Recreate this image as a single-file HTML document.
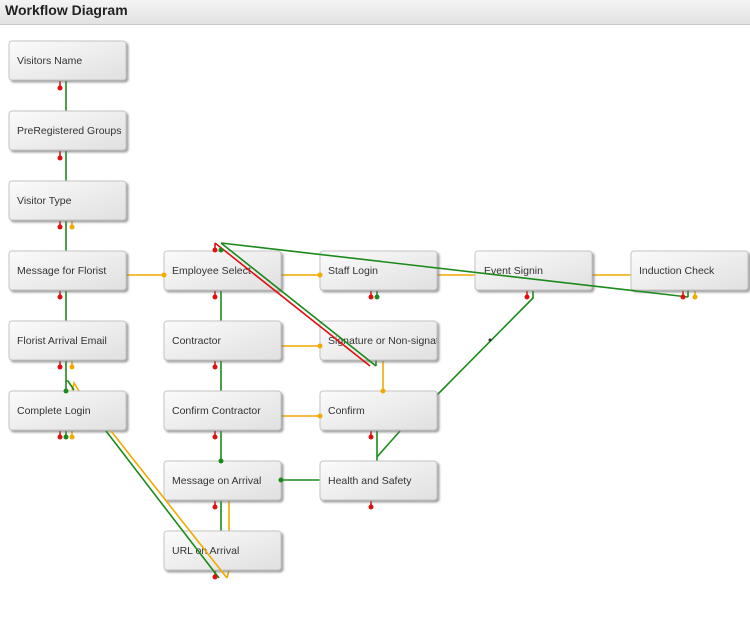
<!DOCTYPE html>
<html><head><meta charset="utf-8"><style>
body{margin:0;width:750px;height:628px;background:#fff;overflow:hidden;font-family:"Liberation Sans",sans-serif}
.hdr{position:absolute;left:0;top:0;width:750px;height:24px;background:linear-gradient(#f4f4f4,#e2e2e2);border-bottom:1px solid #c8c8c8}
.hdr span{position:absolute;left:5px;top:2px;font-size:14px;font-weight:bold;color:#222}
</style></head><body>
<div class="hdr"><span>Workflow Diagram</span></div>
<svg width="750" height="628" style="position:absolute;left:0;top:0">
<defs>
<linearGradient id="g" x1="0" y1="0" x2="1" y2="1"><stop offset="0" stop-color="#fbfbfb"/><stop offset="1" stop-color="#e0e0e0"/></linearGradient>
<filter id="s" x="-10%" y="-10%" width="130%" height="140%"><feDropShadow dx="2" dy="2" stdDeviation="1" flood-color="#777" flood-opacity="0.7"/></filter>
</defs>
<g fill="none" stroke-width="1.6">
<g stroke="#f2a900">
<line x1="126" y1="275" x2="164" y2="275"/><line x1="281" y1="275" x2="320" y2="275"/>
<line x1="437" y1="275" x2="475" y2="275"/><line x1="592" y1="275" x2="631" y2="275"/>
<line x1="281" y1="346" x2="320" y2="346"/><line x1="281" y1="416" x2="320" y2="416"/>
<line x1="383" y1="361" x2="383" y2="391"/>
<line x1="72" y1="221" x2="72" y2="227"/><line x1="72" y1="361" x2="72" y2="367"/>
<line x1="72" y1="431" x2="72" y2="437"/><line x1="695" y1="291" x2="695" y2="297"/>
<polyline points="72,391 74,383 79,391"/>
<polyline points="227,578 229,570 229,501"/>
</g>
<g stroke="#1a8a1a">
<line x1="66" y1="81" x2="66" y2="111"/><line x1="66" y1="151" x2="66" y2="181"/>
<line x1="66" y1="221" x2="66" y2="251"/><line x1="66" y1="291" x2="66" y2="321"/>
<line x1="66" y1="361" x2="66" y2="391"/><polyline points="66,381 68,381 74,390"/>
<line x1="66" y1="431" x2="66" y2="437"/>
<line x1="221" y1="291" x2="221" y2="321"/><line x1="221" y1="361" x2="221" y2="391"/>
<line x1="221" y1="431" x2="221" y2="461"/><line x1="221" y1="501" x2="221" y2="531"/>
<line x1="377" y1="291" x2="377" y2="297"/>
<line x1="377" y1="431" x2="377" y2="461"/><line x1="400" y1="431" x2="377" y2="457"/>
<line x1="320" y1="480" x2="281" y2="480"/>
<polyline points="533,291 533,298 437,395"/>
<polyline points="376,366 376,359"/>
<polyline points="688,297 688,290"/>
</g>
<g stroke="#e01010">
<line x1="60" y1="81" x2="60" y2="88"/><line x1="60" y1="151" x2="60" y2="158"/>
<line x1="60" y1="221" x2="60" y2="227"/><line x1="60" y1="291" x2="60" y2="297"/>
<line x1="60" y1="361" x2="60" y2="367"/><line x1="60" y1="431" x2="60" y2="437"/>
<line x1="215" y1="291" x2="215" y2="297"/><line x1="215" y1="361" x2="215" y2="367"/>
<line x1="215" y1="431" x2="215" y2="437"/><line x1="215" y1="501" x2="215" y2="507"/>
<line x1="371" y1="291" x2="371" y2="297"/><line x1="371" y1="431" x2="371" y2="437"/>
<line x1="371" y1="501" x2="371" y2="507"/><line x1="527" y1="291" x2="527" y2="297"/>
<line x1="683" y1="291" x2="683" y2="297"/>
<polyline points="215,250 215,243"/>
<line x1="215" y1="571" x2="215" y2="577"/>
</g>
</g>
<g filter="url(#s)" fill="url(#g)" stroke="#c4c4c4">
<rect x="9" y="41" width="117" height="39" rx="3"/><rect x="9" y="111" width="117" height="39" rx="3"/>
<rect x="9" y="181" width="117" height="39" rx="3"/><rect x="9" y="251" width="117" height="39" rx="3"/>
<rect x="9" y="321" width="117" height="39" rx="3"/><rect x="9" y="391" width="117" height="39" rx="3"/>
<rect x="164" y="251" width="117" height="39" rx="3"/><rect x="164" y="321" width="117" height="39" rx="3"/>
<rect x="164" y="391" width="117" height="39" rx="3"/><rect x="164" y="461" width="117" height="39" rx="3"/>
<rect x="164" y="531" width="117" height="39" rx="3"/>
<rect x="320" y="251" width="117" height="39" rx="3"/><rect x="320" y="321" width="117" height="39" rx="3"/>
<rect x="320" y="391" width="117" height="39" rx="3"/><rect x="320" y="461" width="117" height="39" rx="3"/>
<rect x="475" y="251" width="117" height="39" rx="3"/><rect x="631" y="251" width="117" height="39" rx="3"/>
</g>
<clipPath id="c"><rect x="320" y="321" width="117" height="39"/></clipPath>
<g font-family="Liberation Sans,sans-serif" font-size="10.5" fill="#333">
<text x="17" y="64">Visitors Name</text><text x="17" y="134">PreRegistered Groups</text>
<text x="17" y="204">Visitor Type</text><text x="17" y="274">Message for Florist</text>
<text x="17" y="344">Florist Arrival Email</text><text x="17" y="414">Complete Login</text>
<text x="172" y="274">Employee Select</text><text x="172" y="344">Contractor</text>
<text x="172" y="414">Confirm Contractor</text><text x="172" y="484">Message on Arrival</text>
<text x="172" y="554">URL on Arrival</text>
<text x="328" y="274">Staff Login</text><text x="328" y="344" clip-path="url(#c)">Signature or Non-signature</text>
<text x="328" y="414">Confirm</text><text x="328" y="484">Health and Safety</text>
<text x="484" y="274">Event Signin</text><text x="639" y="274">Induction Check</text>
</g>
<g fill="none" stroke-width="1.6">
<line x1="221" y1="243" x2="376" y2="366" stroke="#1a8a1a"/>
<line x1="215" y1="243" x2="370" y2="366" stroke="#e01010"/>
<line x1="221" y1="243" x2="688" y2="297" stroke="#1a8a1a"/>
<line x1="106" y1="431" x2="219" y2="578" stroke="#1a8a1a"/>
<line x1="111" y1="431" x2="227" y2="578" stroke="#f2a900"/>
</g>
<g fill="#e01010">
<circle cx="60" cy="88" r="2.5"/><circle cx="60" cy="158" r="2.5"/><circle cx="60" cy="227" r="2.5"/>
<circle cx="60" cy="297" r="2.5"/><circle cx="60" cy="367" r="2.5"/><circle cx="60" cy="437" r="2.5"/>
<circle cx="215" cy="297" r="2.5"/><circle cx="215" cy="367" r="2.5"/><circle cx="215" cy="437" r="2.5"/>
<circle cx="215" cy="507" r="2.5"/><circle cx="215" cy="577" r="2.5"/><circle cx="215" cy="250" r="2.5"/>
<circle cx="371" cy="297" r="2.5"/><circle cx="371" cy="437" r="2.5"/><circle cx="371" cy="507" r="2.5"/>
<circle cx="527" cy="297" r="2.5"/><circle cx="683" cy="297" r="2.5"/>
</g>
<g fill="#1a8a1a">
<circle cx="377" cy="297" r="2.5"/><circle cx="66" cy="437" r="2.5"/><circle cx="66" cy="391" r="2.5"/>
<circle cx="221" cy="461" r="2.5"/><circle cx="281" cy="480" r="2.5"/><circle cx="221" cy="250" r="2.5"/>
<circle cx="490" cy="340" r="1.5" fill="#333"/>
</g>
<g fill="#f2a900">
<circle cx="72" cy="227" r="2.5"/><circle cx="72" cy="367" r="2.5"/><circle cx="72" cy="437" r="2.5"/>
<circle cx="695" cy="297" r="2.5"/><circle cx="164" cy="275" r="2.5"/><circle cx="320" cy="275" r="2.5"/>
<circle cx="320" cy="346" r="2.5"/><circle cx="320" cy="416" r="2.5"/><circle cx="383" cy="391" r="2.5"/>
</g>
</svg>
</body></html>
